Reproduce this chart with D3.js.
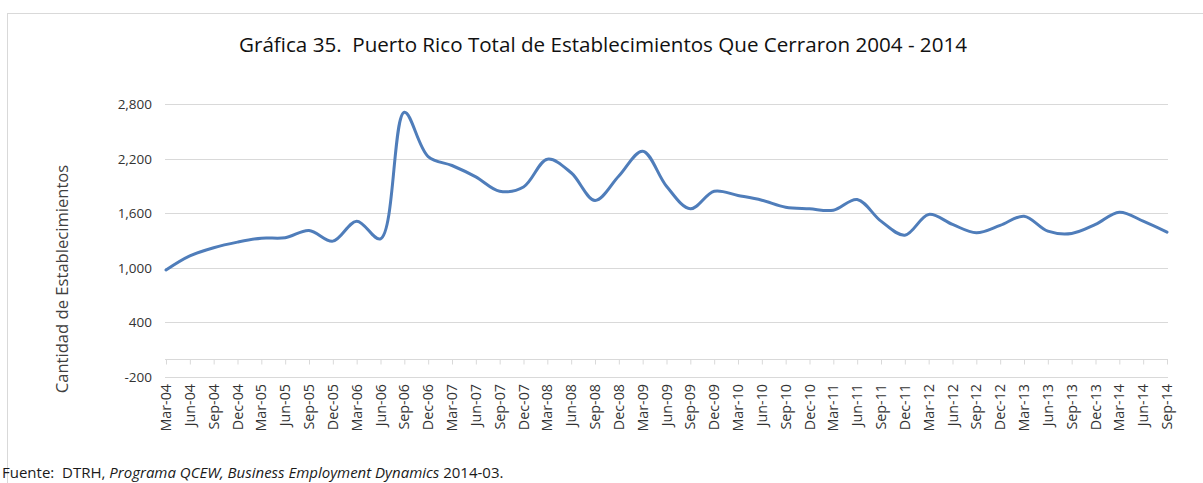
<!DOCTYPE html>
<html>
<head>
<meta charset="utf-8">
<script src="https://cdn.jsdelivr.net/npm/d3@7"></script>
<style>
  html, body { margin: 0; padding: 0; background: #fff; }
  svg { display: block; font-family: "Open Sans", sans-serif; }
  text { white-space: pre; }
</style>
</head>
<body>
<svg id="chart" width="1203" height="483"></svg>
<script>
const categories = ["Mar-04","Jun-04","Sep-04","Dec-04","Mar-05","Jun-05","Sep-05","Dec-05","Mar-06","Jun-06","Sep-06","Dec-06","Mar-07","Jun-07","Sep-07","Dec-07","Mar-08","Jun-08","Sep-08","Dec-08","Mar-09","Jun-09","Sep-09","Dec-09","Mar-10","Jun-10","Sep-10","Dec-10","Mar-11","Jun-11","Sep-11","Dec-11","Mar-12","Jun-12","Sep-12","Dec-12","Mar-13","Jun-13","Sep-13","Dec-13","Mar-14","Jun-14","Sep-14"];
const closedEstablishments = [975,1130,1220,1282,1326,1330,1410,1293,1513,1319,2713,2225,2126,2001,1843,1890,2195,2046,1741,2010,2284,1898,1649,1843,1796,1744,1667,1649,1634,1752,1513,1359,1587,1477,1385,1466,1568,1403,1378,1477,1612,1513,1392];
const yTicks = [-200, 400, 1000, 1600, 2200, 2800];
const title = "Gráfica 35.  Puerto Rico Total de Establecimientos Que Cerraron 2004 - 2014";
const yAxisTitle = "Cantidad de Establecimientos";

const svg = d3.select("#chart");

// chart frame
svg.append("rect").attr("x", 7.5).attr("y", 13.5).attr("width", 1210).attr("height", 500)
  .attr("fill", "none").attr("stroke", "#d9d9d9").attr("stroke-width", 1);

const x = d3.scalePoint().domain(categories).range([166, 1167]);
const y = d3.scaleLinear().domain([-200, 2800]).range([376.7, 104.3]);

// gridlines
svg.append("g").selectAll("line").data(yTicks).join("line")
  .attr("x1", 165).attr("x2", 1168)
  .attr("y1", d => Math.round(y(d)) + 0.5).attr("y2", d => Math.round(y(d)) + 0.5)
  .attr("stroke", "#d9d9d9").attr("stroke-width", 1);

// y axis labels
const fmt = d3.format(",");
const yAxis = d3.axisLeft(y).tickValues(yTicks).tickSize(0).tickPadding(0)
  .tickFormat(d => fmt(d).replace("\u2212", "-"));
const gy = svg.append("g").attr("transform", "translate(152,0)").call(yAxis);
gy.select(".domain").remove();
gy.selectAll("text").attr("font-size", 13.5).attr("fill", "#333").attr("font-family", "Open Sans");

// category axis at zero
const gx = svg.append("g").attr("transform", `translate(0,${Math.round(y(0)) + 0.5})`)
  .call(d3.axisBottom(x).tickSize(5).tickFormat(""));
gx.select(".domain").attr("stroke", "#d9d9d9").attr("d", "M165,0H1168");
gx.selectAll(".tick line").attr("stroke", "#d9d9d9");

// category labels (low position)
svg.append("g").selectAll("text").data(categories).join("text")
  .attr("transform", d => `translate(${x(d)},384) rotate(-90)`)
  .attr("text-anchor", "end").attr("dy", "0.35em")
  .attr("font-size", 14.3).attr("fill", "#333")
  .text(d => d);

// line
const line = d3.line()
  .x((d, i) => x(categories[i]))
  .y(d => y(d))
  .curve(d3.curveCatmullRom.alpha(0.5));
svg.append("path").datum(closedEstablishments)
  .attr("d", line).attr("fill", "none")
  .attr("stroke", "#4f7dba").attr("stroke-width", 3).attr("stroke-linejoin", "round").attr("stroke-linecap", "round");

// title
svg.append("text").attr("x", 603).attr("y", 52).attr("text-anchor", "middle")
  .attr("font-size", 20.6).attr("fill", "#111").text(title);

// y axis title
svg.append("text").attr("transform", "translate(62,279) rotate(-90)")
  .attr("text-anchor", "middle").attr("dy", "0.35em")
  .attr("font-size", 16.6).attr("fill", "#404040").text(yAxisTitle);

// source note
const src = svg.append("text").attr("x", 2).attr("y", 478).attr("font-size", 15).attr("fill", "#1a1a1a");
src.append("tspan").text("Fuente:  DTRH, ");
src.append("tspan").attr("font-style", "italic").text("Programa QCEW, Business Employment Dynamics");
src.append("tspan").text(" 2014-03.");
</script>
</body>
</html>
